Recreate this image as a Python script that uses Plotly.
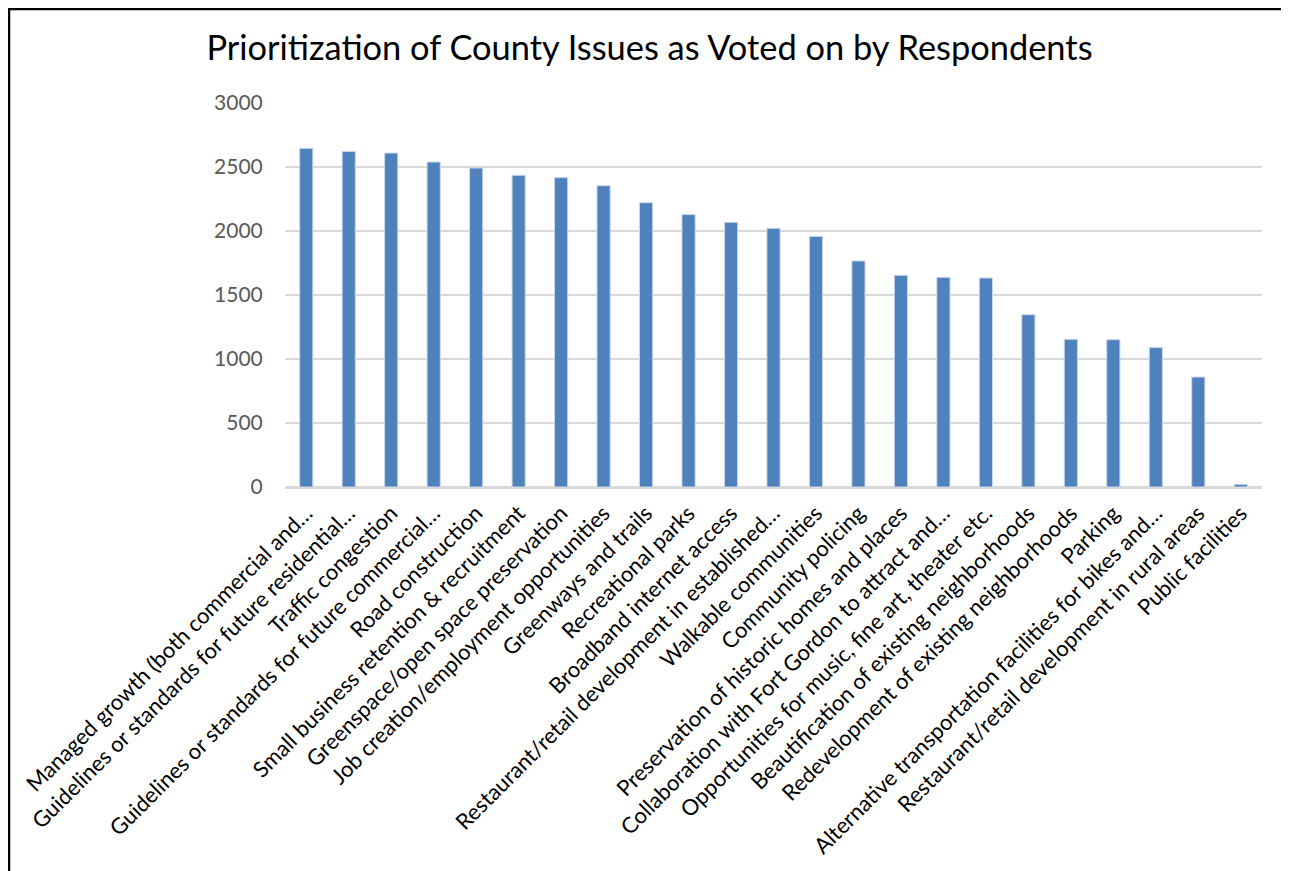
import plotly.graph_objects as go

categories = [
    "Managed growth (both commercial and…",
    "Guidelines or standards for future residential…",
    "Traffic congestion",
    "Guidelines or standards for future commercial…",
    "Road construction",
    "Small business retention & recruitment",
    "Greenspace/open space preservation",
    "Job creation/employment opportunities",
    "Greenways and trails",
    "Recreational parks",
    "Broadband internet access",
    "Restaurant/retail development in established…",
    "Walkable communities",
    "Community policing",
    "Preservation of historic homes and places",
    "Collaboration with Fort Gordon to attract and…",
    "Opportunities for music, fine art, theater etc.",
    "Beautification of existing neighborhoods",
    "Redevelopment of existing neighborhoods",
    "Parking",
    "Alternative transportation facilities for bikes and…",
    "Restaurant/retail development in rural areas",
    "Public facilities",
]
votes = [2646, 2622, 2609, 2539, 2492, 2435, 2417, 2354, 2221, 2128, 2068,
         2021, 1958, 1766, 1654, 1638, 1633, 1346, 1154, 1151, 1089, 859, 21]
y_ticks = [0, 500, 1000, 1500, 2000, 2500, 3000]
title_text = "Prioritization of County Issues as Voted on by Respondents"

# page is rendered with an 8px body margin; work in figure coordinates
OFF = 8
W, H = 1289 - OFF, 871 - OFF
L, R, T, B = 285 - OFF, 1262 - OFF, 103 - OFF, 487 - OFF
FONT = "Lato"

fig = go.Figure(go.Bar(
    x=categories, y=votes,
    marker=dict(color="#4F81BD", line=dict(color="#C9D7EA", width=1)),
    hoverinfo="x+y",
))

def px_x(p):
    return (p - L) / (R - L)

def px_y(p):
    return (B - p) / (B - T)

fig.update_layout(
    width=W, height=H,
    margin=dict(l=L, r=W - R, t=T, b=H - B, pad=0),
    paper_bgcolor="white", plot_bgcolor="white",
    bargap=0.69,
    showlegend=False,
    font=dict(family=FONT, color="#000000"),
    title=dict(text=title_text, xref="container", x=(649.5 - OFF) / W, xanchor="center",
               yref="container", y=1 - (48 - OFF) / H, yanchor="middle",
               font=dict(family=FONT, size=34.4, color="#000000")),
    xaxis=dict(
        tickangle=-45, tickfont=dict(family=FONT, size=22, color="#000000"),
        showgrid=False, showline=True, linecolor="#D9D9D9", linewidth=1.5,
        ticks="outside", ticklen=3, tickcolor="rgba(0,0,0,0)", automargin=False,
    ),
    yaxis=dict(
        range=[0, 3000], tickvals=y_ticks, ticktext=[str(v) for v in y_ticks],
        tickfont=dict(family=FONT, size=21, color="#595959"),
        showgrid=True, gridcolor="#D9D9D9", gridwidth=1.5,
        zeroline=True, zerolinecolor="#D9D9D9", zerolinewidth=1.5,
        showline=False, ticks="outside", ticklen=17, tickcolor="rgba(0,0,0,0)",
        automargin=False,
    ),
    shapes=[
        dict(type="line", xref="paper", yref="paper",
             x0=px_x(0), x1=px_x(W + 5), y0=px_y(1), y1=px_y(1),
             line=dict(color="#000000", width=2.5)),
        dict(type="line", xref="paper", yref="paper",
             x0=px_x(1), x1=px_x(1), y0=px_y(0), y1=px_y(H + 5),
             line=dict(color="#000000", width=2.5)),
    ],
)

fig.write_html("out.html")
